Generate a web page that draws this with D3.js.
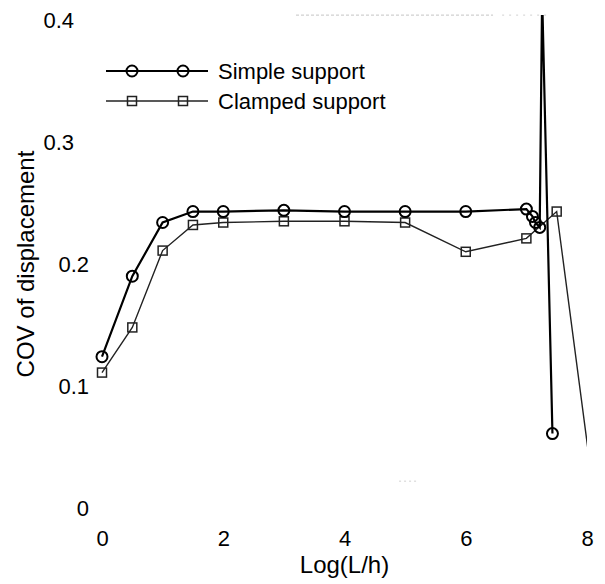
<!DOCTYPE html>
<html>
<head>
<meta charset="utf-8">
<script src="https://cdn.jsdelivr.net/npm/d3@7"></script>
<style>
  body { margin: 0; background: #fff; }
  text { font-family: "Liberation Sans", Arial, sans-serif; fill: #000; }
</style>
</head>
<body>
<svg id="graf1"></svg>
<script>
// Log(L/h)
let xSimple = [0, 0.5, 1, 1.5, 2, 3, 4, 5, 6, 7, 7.1, 7.15, 7.22, 7.26, 7.43]
let cSimple = [0.124, 0.19, 0.234, 0.243, 0.243, 0.244, 0.243, 0.243, 0.243, 0.245, 0.239, 0.234, 0.23, 0.42, 0.061]

let xClamped = [0, 0.5, 1, 1.5, 2, 3, 4, 5, 6, 7, 7.5, 8.05]
let cClamped = [0.111, 0.148, 0.211, 0.232, 0.234, 0.235, 0.235, 0.234, 0.21, 0.221, 0.243, 0.035]

let xTicks = [0, 2, 4, 6, 8]
let yTicks = [0, 0.1, 0.2, 0.3, 0.4]
let seriesNames = ['Simple support', 'Clamped support']

function graficar() {
  let width = 605
  let height = 584

  let x = d3.scaleLinear().domain([0, 8]).range([102, 587])
  let y = d3.scaleLinear().domain([0, 0.4]).range([508, 20])

  let svg = d3.select('#graf1')
    .attr('width', width)
    .attr('height', height)

  // clip the curves to the plot box (top and right edge)
  svg.append('defs').append('clipPath').attr('id', 'clip')
    .append('rect')
    .attr('x', x(-0.5)).attr('y', y(0.404))
    .attr('width', x(8) - x(-0.5)).attr('height', y(-0.05) - y(0.404))

  // faint remains of the frame
  svg.append('line')
    .attr('x1', x(3.2)).attr('x2', x(6.45))
    .attr('y1', y(0.404)).attr('y2', y(0.404))
    .attr('stroke', '#c4c4c4').attr('stroke-width', 1)
    .attr('stroke-dasharray', '3,2')
  svg.append('line')
    .attr('x1', x(6.6)).attr('x2', x(7.4))
    .attr('y1', y(0.404)).attr('y2', y(0.404))
    .attr('stroke', '#d0d0d0').attr('stroke-width', 1)
    .attr('stroke-dasharray', '2,5')
  svg.append('line')
    .attr('x1', x(4.9)).attr('x2', x(5.2))
    .attr('y1', y(0.022)).attr('y2', y(0.022))
    .attr('stroke', '#d0d0d0').attr('stroke-width', 1)
    .attr('stroke-dasharray', '2,3')

  // axes, labels only
  let xAxis = svg.append('g')
    .attr('transform', `translate(0, 530)`)
    .call(d3.axisBottom(x).tickValues(xTicks).tickSize(0).tickPadding(0).tickFormat(d3.format('d')))
  xAxis.select('.domain').remove()
  xAxis.selectAll('text').style('font-size', '22px').attr('font-family', 'Liberation Sans, Arial, sans-serif')

  let yAxis = svg.append('g')
    .attr('transform', `translate(89, 0)`)
    .call(d3.axisLeft(y).tickValues(yTicks).tickSize(0).tickPadding(0)
      .tickFormat(d => d === 0 ? '0' : d3.format('.1f')(d)))
  yAxis.select('.domain').remove()
  yAxis.selectAll('text')
    .style('font-size', '22px')
    .attr('font-family', 'Liberation Sans, Arial, sans-serif')
    .attr('dx', d => d >= 0.3 ? -15 : 0)

  svg.append('text')
    .attr('x', x(4)).attr('y', 573)
    .attr('text-anchor', 'middle')
    .style('font-size', '24px')
    .text('Log(L/h)')

  svg.append('text')
    .attr('transform', `translate(34, ${y(0.2)}) rotate(-90)`)
    .attr('text-anchor', 'middle')
    .style('font-size', '24px')
    .text('COV of displacement')

  let line = d3.line().x(d => x(d[0])).y(d => y(d[1]))
  let simple = xSimple.map((v, i) => [v, cSimple[i]])
  let clamped = xClamped.map((v, i) => [v, cClamped[i]])

  let plot = svg.append('g').attr('clip-path', 'url(#clip)')

  plot.append('path')
    .datum(clamped)
    .attr('d', line)
    .attr('fill', 'none')
    .attr('stroke', '#222')
    .attr('stroke-width', 1.4)

  plot.append('path')
    .datum(simple)
    .attr('d', line)
    .attr('fill', 'none')
    .attr('stroke', '#000')
    .attr('stroke-width', 2.2)

  // markers, only for points inside the box
  plot.selectAll('rect.mk')
    .data(clamped.filter(d => d[0] <= 8 && d[1] <= 0.4))
    .enter().append('rect')
    .attr('class', 'mk')
    .attr('x', d => x(d[0]) - 4.5)
    .attr('y', d => y(d[1]) - 4.5)
    .attr('width', 9).attr('height', 9)
    .attr('fill', 'none')
    .attr('stroke', '#222')
    .attr('stroke-width', 1.5)

  plot.selectAll('circle.mk')
    .data(simple.filter(d => d[0] <= 8 && d[1] <= 0.4))
    .enter().append('circle')
    .attr('class', 'mk')
    .attr('cx', d => x(d[0]))
    .attr('cy', d => y(d[1]))
    .attr('r', 5.5)
    .attr('fill', 'none')
    .attr('stroke', '#000')
    .attr('stroke-width', 2)

  // legend
  let leg = svg.append('g')
  let legY = [71, 101]
  seriesNames.forEach((name, i) => {
    let g = leg.append('g').attr('transform', `translate(0, ${legY[i]})`)
    g.append('line')
      .attr('x1', 106).attr('x2', 208)
      .attr('stroke', i === 0 ? '#000' : '#222')
      .attr('stroke-width', i === 0 ? 2.2 : 1.4)
    ;[132, 183].forEach(cx => {
      if (i === 0) {
        g.append('circle').attr('cx', cx).attr('cy', 0).attr('r', 5.5)
          .attr('fill', 'none').attr('stroke', '#000').attr('stroke-width', 2)
      } else {
        g.append('rect').attr('x', cx - 4.5).attr('y', -4.5).attr('width', 9).attr('height', 9)
          .attr('fill', 'none').attr('stroke', '#222').attr('stroke-width', 1.5)
      }
    })
    g.append('text')
      .attr('x', 218).attr('y', 8)
      .style('font-size', '22px')
      .text(name)
  })
}

graficar()
</script>
</body>
</html>
